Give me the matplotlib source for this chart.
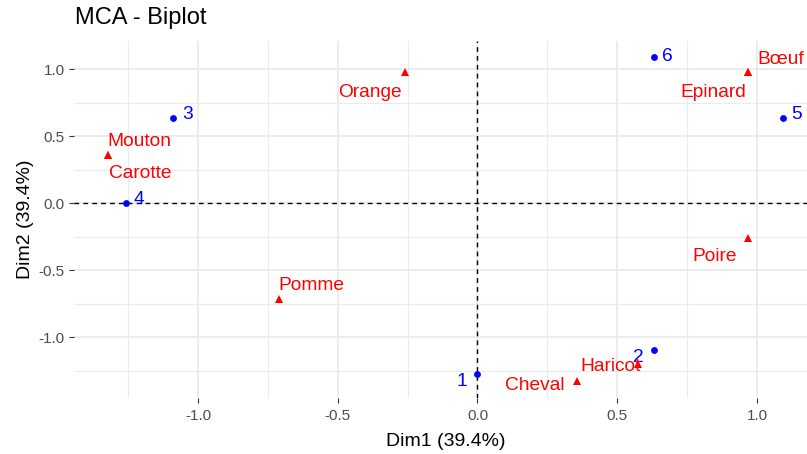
import matplotlib
matplotlib.use("Agg")
import matplotlib.pyplot as plt
import numpy as np

# Individuals (rows) coordinates on the first two MCA dimensions
ind_names = ["1", "2", "3", "4", "5", "6"]
ind_dim1 = [0.0, 0.631, -1.090, -1.257, 1.092, 0.631]
ind_dim2 = [-1.270, -1.096, 0.636, 0.0, 0.636, 1.095]

# Variable categories coordinates
var_names = ["Orange", "Mouton", "Carotte", "Bœuf", "Epinard",
             "Poire", "Pomme", "Cheval", "Haricot"]
var_dim1 = [-0.259, -1.323, -1.323, 0.967, 0.967, 0.967, -0.711, 0.355, 0.575]
var_dim2 = [0.980, 0.362, 0.362, 0.980, 0.980, -0.260, -0.713, -1.327, -1.198]

x_ticks = [-1.0, -0.5, 0.0, 0.5, 1.0]
y_ticks = [-1.0, -0.5, 0.0, 0.5, 1.0]
title = "MCA - Biplot"
x_title = "Dim1 (39.4%)"
y_title = "Dim2 (39.4%)"

# label offsets (pixels) to keep texts clear of the markers
ind_offsets = {"1": (-16, -8), "2": (-15, -7), "3": (15, 4), "4": (13, 4),
               "5": (14, 4), "6": (14, 0)}
var_offsets = {"Orange": (-35, -20), "Mouton": (32, 13), "Carotte": (33, -19),
               "Bœuf": (33, 13), "Epinard": (-34, -20), "Poire": (-33, -18),
               "Pomme": (33, 13), "Cheval": (-42, -4), "Haricot": (-28, -3)}

plt.rcParams["font.family"] = ["Liberation Sans", "DejaVu Sans"]

W, H = 807, 454
fig = plt.figure(figsize=(W / 100, H / 100), dpi=100)
fig.patch.set_facecolor("white")

# axes placement in pixels (panel runs slightly past the right edge)
left, right, top, bottom = 74, 816.4, 40.5, 397.5
ax = fig.add_axes([left / W, 1 - bottom / H, (right - left) / W, (bottom - top) / H])

for s in ax.spines.values():
    s.set_visible(False)

ax.set_xticks(x_ticks)
ax.set_yticks(y_ticks)
ax.set_xticklabels([f"{v:.1f}" for v in x_ticks])
ax.set_yticklabels([f"{v:.1f}" for v in y_ticks])
ax.set_xticks(np.arange(-1.25, 1.3, 0.5), minor=True)
ax.set_yticks(np.arange(-1.25, 1.3, 0.5), minor=True)
ax.tick_params(which="major", length=3.8, width=0.8, color="#333333",
               labelsize=11, labelcolor="#4D4D4D")
ax.tick_params(axis="x", which="major", pad=4.3)
ax.tick_params(axis="y", which="major", pad=3.0)
ax.tick_params(which="minor", length=0)
ax.grid(which="major", color="#EBEBEB", linewidth=1.3)
ax.grid(which="minor", color="#EBEBEB", linewidth=0.8)
ax.set_axisbelow(True)

# limits with 5% expansion of data range (set after ticks so they stick)
all_x = np.array(ind_dim1 + var_dim1)
all_y = np.array(ind_dim2 + var_dim2)
rx = all_x.max() - all_x.min()
ry = all_y.max() - all_y.min()
ax.set_xlim(all_x.min() - 0.05 * rx, all_x.max() + 0.05 * rx)
ax.set_ylim(all_y.min() - 0.05 * ry, all_y.max() + 0.05 * ry)

# reference lines through the origin
ax.axhline(0, color="black", linewidth=1.0, linestyle=(0, (3.4, 3.0)), zorder=1.5)
ax.axvline(0, color="black", linewidth=1.0, linestyle=(0, (3.4, 3.0)), zorder=1.5)

# individuals
ax.scatter(ind_dim1, ind_dim2, s=24, color="#0000FF", marker="o",
           linewidths=0, zorder=3)
for n, x, y in zip(ind_names, ind_dim1, ind_dim2):
    dx, dy = ind_offsets[n]
    ax.annotate(n, (x, y), xytext=(dx, dy), textcoords="offset pixels",
                ha="center", va="center", color="#0000FF", fontsize=13.8,
                zorder=4)

# variable categories
ax.plot(var_dim1, var_dim2, linestyle="none", marker="^", markersize=5.2,
        color="#FF0000", markeredgewidth=0, zorder=3)
for n, x, y in zip(var_names, var_dim1, var_dim2):
    dx, dy = var_offsets[n]
    ax.annotate(n, (x, y), xytext=(dx, dy), textcoords="offset pixels",
                ha="center", va="center", color="#FF0000", fontsize=13.8,
                zorder=4)

ax.set_xlim(all_x.min() - 0.05 * rx, all_x.max() + 0.05 * rx)
ax.set_ylim(all_y.min() - 0.05 * ry, all_y.max() + 0.05 * ry)

# titles
fig.text(75 / W, 1 - 24 / H, title, ha="left", va="baseline",
         fontsize=17, color="black")
fig.text(445.8 / W, 1 - 446 / H, x_title, ha="center", va="baseline",
         fontsize=14, color="black")
fig.text(30 / W, 1 - 218.8 / H, y_title, ha="center", va="baseline",
         rotation=90, rotation_mode="anchor", fontsize=14, color="black")

fig.savefig("out.png", dpi=100)
